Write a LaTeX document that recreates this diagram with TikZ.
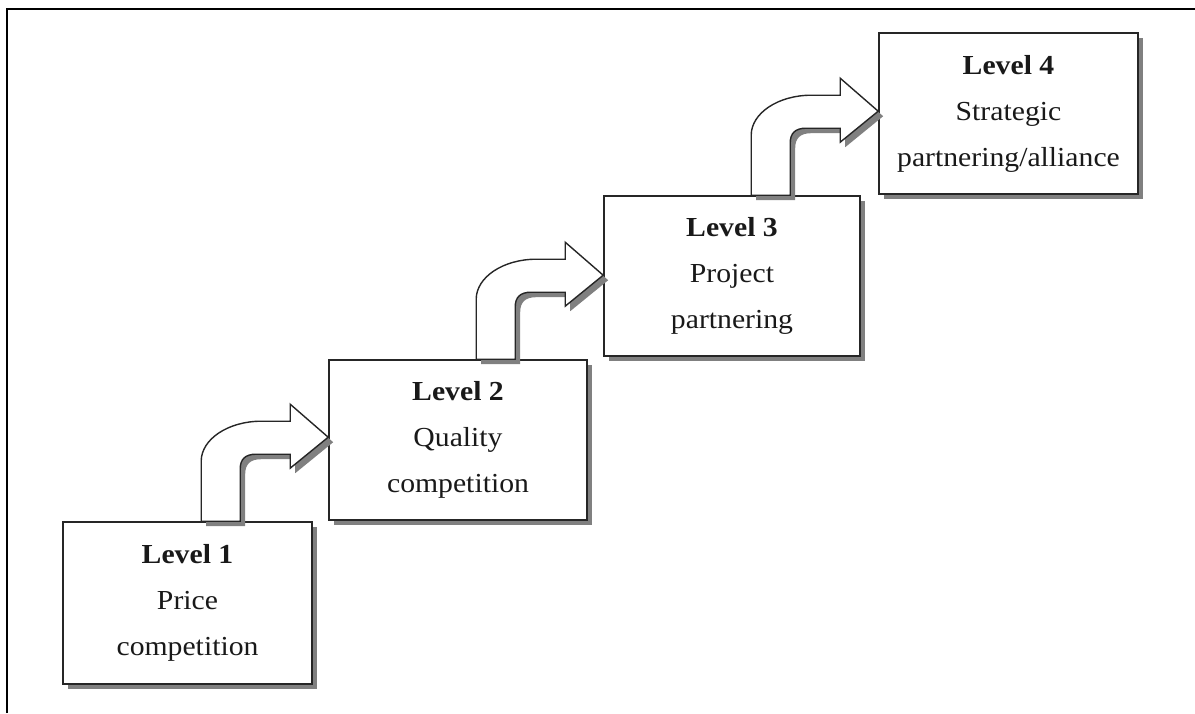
\documentclass[tikz,border=0pt]{standalone}
\usepackage{fontspec}
\newfontfamily\lblfont{Liberation Serif}[FakeStretch=1.08]
\usetikzlibrary{shadows}
\begin{document}
\begin{tikzpicture}[x=1pt, y=-1pt,
  shadowed/.style={drop shadow={shadow xshift=5pt, shadow yshift=-5pt, opacity=1, fill=black!50}},
  levelbox/.style={draw=black!85, line width=1.6pt, fill=white, shadowed,
    inner sep=0pt, align=center, text=black!90,
    font=\lblfont\fontsize{27.5}{46}\selectfont},
  arrowshape/.style={draw=black!85, line width=1.4pt, fill=white, shadowed},
  steparrow/.pic={
    % bent arrow rising from a box top and pointing at the next box
    \path[arrowshape] (-127,0) -- (-127,-60)
      .. controls (-127,-82) and (-100,-100) .. (-67,-100)
      -- (-38,-100) -- (-38,-117) -- (0,-84) -- (-38,-53) -- (-38,-67)
      -- (-72,-67) .. controls (-83,-67) and (-88,-62) .. (-88,-52)
      -- (-88,0) -- cycle;
  }]
\useasboundingbox (0,0) rectangle (1195,713);

% outer frame
\draw[line width=2.5pt] (7,713) -- (7,9) -- (1195,9);

% the four levels
\node[levelbox, minimum width=249pt, minimum height=162pt] (b1) at (187.5,603)
  {\textbf{Level 1}\\Price\\competition};
\node[levelbox, minimum width=258pt, minimum height=160pt] (b2) at (458,440)
  {\textbf{Level 2}\\Quality\\competition};
\node[levelbox, minimum width=256pt, minimum height=160pt] (b3) at (732,276)
  {\textbf{Level 3}\\Project\\partnering};
\node[levelbox, minimum width=259pt, minimum height=161pt] (b4) at (1008.5,113.5)
  {\textbf{Level 4}\\Strategic\\partnering/alliance};

% arrows between consecutive levels
\coordinate (a1) at (b1.north -| b2.west);
\coordinate (a2) at (b2.north -| b3.west);
\coordinate (a3) at (b3.north -| b4.west);
\pic at (a1) {steparrow};
\pic at (a2) {steparrow};
\pic at (a3) {steparrow};
\end{tikzpicture}
\end{document}
